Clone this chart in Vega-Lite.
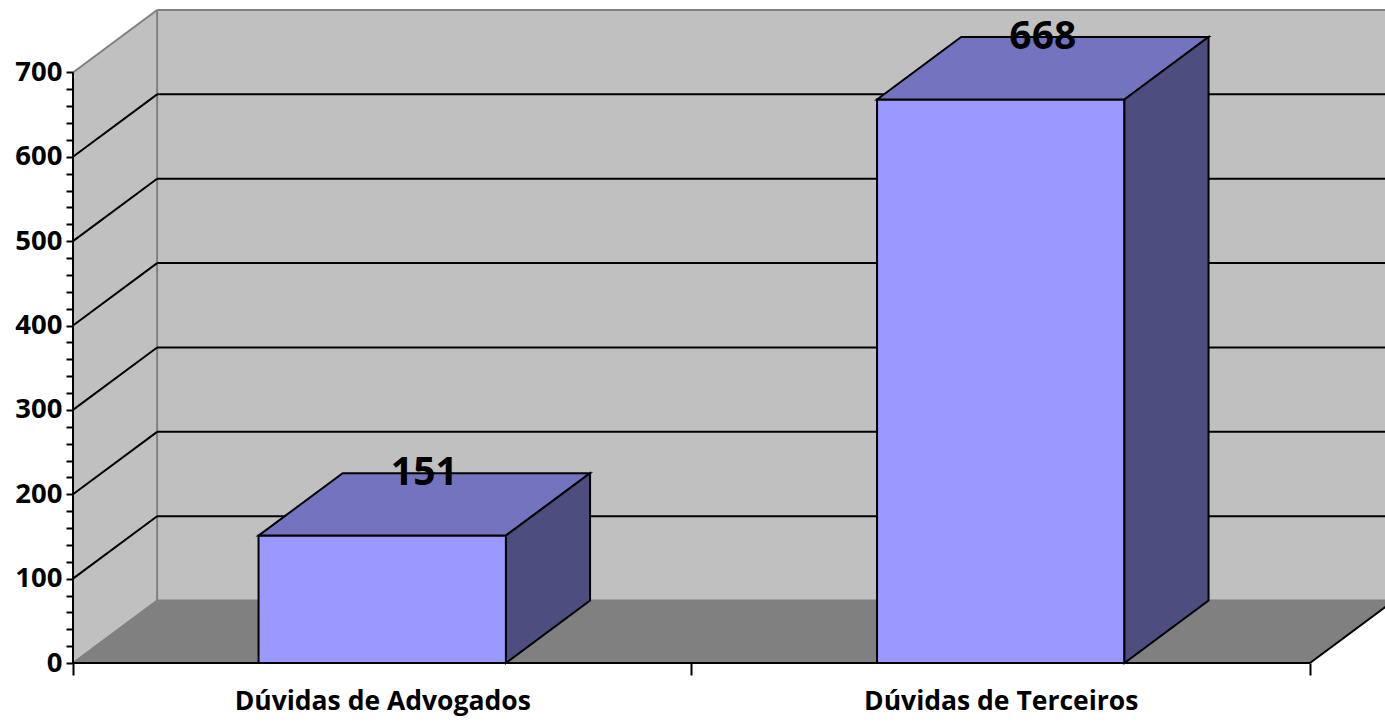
{
  "$schema": "https://vega.github.io/schema/vega-lite/v6.json",
  "width": 1312,
  "height": 653,
  "autosize": {"type": "none"},
  "padding": {"left": 73, "top": 10, "right": 0, "bottom": 62},
  "background": "white",
  "config": {
    "view": {"stroke": null},
    "axis": {
      "domain": false, "grid": false,
      "tickColor": "black", "tickWidth": 2,
      "labelFont": "Open Sans", "labelFontWeight": "bold", "labelColor": "black",
      "labelOverlap": false, "labelBound": false, "labelFlush": false, "labelLimit": 500
    }
  },
  "datasets": {
    "bars": [
      {"category": "Dúvidas de Advogados", "value": 151},
      {"category": "Dúvidas de Terceiros", "value": 668}
    ],
    "grid": [{"v": 100}, {"v": 200}, {"v": 300}, {"v": 400}, {"v": 500}, {"v": 600}]
  },
  "layer": [
    {
      "data": {"values": [{}]},
      "mark": {"type": "rect", "fill": "#c0c0c0"},
      "encoding": {
        "x": {"datum": 0.136, "type": "quantitative", "title": null, "scale": {"domain": [0, 2.1213], "nice": false, "zero": false}},
        "x2": {"datum": 2.1213},
        "y": {"datum": 74, "type": "quantitative", "title": null, "scale": {"domain": [0, 774], "nice": false, "zero": false}},
        "y2": {"datum": 774}
      }
    },
    {
      "data": {"values": [{}]},
      "transform": [
        {"calculate": "[0, 0.136]", "as": "px"},
        {"calculate": "[700, 774]", "as": "py"},
        {"calculate": "[0, 74]", "as": "py2"},
        {"flatten": ["px", "py", "py2"]}
      ],
      "mark": {"type": "area", "fill": "#c0c0c0", "orient": "vertical"},
      "encoding": {
        "x": {"field": "px", "type": "quantitative", "title": null},
        "y": {"field": "py", "type": "quantitative", "title": null},
        "y2": {"field": "py2"}
      }
    },
    {
      "data": {"values": [{}]},
      "transform": [
        {"calculate": "[0, 0.136, 2, 2.136]", "as": "px"},
        {"calculate": "[0, 74, 74, 74]", "as": "py"},
        {"calculate": "[0, 0, 0, 74]", "as": "py2"},
        {"flatten": ["px", "py", "py2"]}
      ],
      "mark": {"type": "area", "fill": "#808080", "orient": "vertical"},
      "encoding": {
        "x": {"field": "px", "type": "quantitative", "title": null},
        "y": {"field": "py", "type": "quantitative", "title": null},
        "y2": {"field": "py2"}
      }
    },
    {
      "data": {"values": [{}]},
      "mark": {"type": "rule", "color": "#808080", "strokeWidth": 2},
      "encoding": {
        "x": {"datum": 0, "type": "quantitative", "title": null},
        "x2": {"datum": 0.136},
        "y": {"datum": 700, "type": "quantitative", "title": null},
        "y2": {"datum": 774}
      }
    },
    {
      "data": {"values": [{}]},
      "mark": {"type": "rule", "color": "#808080", "strokeWidth": 2},
      "encoding": {
        "x": {"datum": 0.136, "type": "quantitative", "title": null},
        "x2": {"datum": 2.1213},
        "y": {"datum": 774, "type": "quantitative", "title": null}
      }
    },
    {
      "data": {"values": [{}]},
      "mark": {"type": "rule", "color": "#808080", "strokeWidth": 2},
      "encoding": {
        "x": {"datum": 0.136, "type": "quantitative", "title": null},
        "y": {"datum": 74, "type": "quantitative", "title": null},
        "y2": {"datum": 774}
      }
    },
    {
      "data": {"values": [{}]},
      "mark": {"type": "rule", "color": "#808080", "strokeWidth": 2},
      "encoding": {
        "x": {"datum": 0.136, "type": "quantitative", "title": null},
        "x2": {"datum": 2.1213},
        "y": {"datum": 74, "type": "quantitative", "title": null}
      }
    },
    {
      "data": {"values": [{}]},
      "mark": {"type": "rule", "color": "#808080", "strokeWidth": 2},
      "encoding": {
        "x": {"datum": 0, "type": "quantitative", "title": null},
        "x2": {"datum": 0.136},
        "y": {"datum": 0, "type": "quantitative", "title": null},
        "y2": {"datum": 74}
      }
    },
    {
      "data": {"name": "grid"},
      "transform": [{"calculate": "datum.v + 74", "as": "vb"}],
      "mark": {"type": "rule", "color": "black", "strokeWidth": 2},
      "encoding": {
        "x": {"datum": 0.136, "type": "quantitative", "title": null},
        "x2": {"datum": 2.1213},
        "y": {"field": "vb", "type": "quantitative", "title": null}
      }
    },
    {
      "data": {"name": "grid"},
      "transform": [{"calculate": "datum.v + 74", "as": "vb"}],
      "mark": {"type": "rule", "color": "black", "strokeWidth": 2},
      "encoding": {
        "x": {"datum": 0, "type": "quantitative", "title": null},
        "x2": {"datum": 0.136},
        "y": {"field": "v", "type": "quantitative", "title": null},
        "y2": {"field": "vb"}
      }
    },
    {
      "data": {"values": [{}]},
      "mark": {"type": "rule", "color": "black", "strokeWidth": 2},
      "encoding": {
        "x": {"datum": 0, "type": "quantitative", "title": null},
        "y": {"datum": 0, "type": "quantitative", "title": null},
        "y2": {"datum": 700}
      }
    },
    {
      "data": {"values": [{}]},
      "mark": {"type": "rule", "color": "black", "strokeWidth": 2},
      "encoding": {
        "x": {"datum": 0, "type": "quantitative", "title": null},
        "x2": {"datum": 2},
        "y": {"datum": 0, "type": "quantitative", "title": null}
      }
    },
    {
      "data": {"values": [{}]},
      "mark": {"type": "rule", "color": "black", "strokeWidth": 2},
      "encoding": {
        "x": {"datum": 2, "type": "quantitative", "title": null},
        "x2": {"datum": 2.136},
        "y": {"datum": 0, "type": "quantitative", "title": null},
        "y2": {"datum": 74}
      }
    },
    {
      "data": {"name": "bars"},
      "transform": [
        {"window": [{"op": "row_number", "as": "idx"}]},
        {"calculate": "datum.idx - 0.7", "as": "x0"},
        {"calculate": "datum.idx - 0.3", "as": "x1"}
      ],
      "mark": {"type": "rect", "fill": "#9999ff", "stroke": "black", "strokeWidth": 2},
      "encoding": {
        "x": {
          "field": "x0", "type": "quantitative", "title": null,
          "scale": {"domain": [0, 2.1213], "nice": false, "zero": false},
          "axis": {
            "values": [0, 0.5, 1, 1.5, 2],
            "tickCount": 100,
            "labelExpr": "datum.value == 0.5 ? 'Dúvidas de Advogados' : (datum.value == 1.5 ? 'Dúvidas de Terceiros' : '')",
            "tickOpacity": {"condition": {"test": "datum.value == 0.5 || datum.value == 1.5", "value": 0}, "value": 1},
            "domain": false, "grid": false, "tickColor": "black", "tickWidth": 2, "tickSize": 12,
            "labelFont": "Open Sans", "labelFontSize": 26.5, "labelFontWeight": "bold", "labelColor": "black",
            "labelPadding": 13, "labelOverlap": false, "labelBound": false, "labelFlush": false, "labelLimit": 500
          }
        },
        "x2": {"field": "x1"},
        "y": {
          "field": "value", "type": "quantitative", "title": null,
          "scale": {"domain": [0, 774], "nice": false, "zero": false},
          "axis": {
            "values": [0, 20, 40, 60, 80, 100, 120, 140, 160, 180, 200, 220, 240, 260, 280, 300, 320, 340, 360, 380, 400, 420, 440, 460, 480, 500, 520, 540, 560, 580, 600, 620, 640, 660, 680, 700],
            "tickCount": 100,
            "labelExpr": "datum.value % 100 == 0 ? datum.label : ''",
            "domain": false, "grid": false, "tickColor": "black", "tickWidth": 2, "tickSize": 7,
            "labelFont": "Open Sans", "labelFontSize": 27.5, "labelFontWeight": "bold", "labelColor": "black",
            "labelPadding": 4, "labelOverlap": false, "labelBound": false, "labelFlush": false, "labelLimit": 500
          }
        },
        "y2": {"datum": 0}
      }
    },
    {
      "data": {"name": "bars"},
      "transform": [
        {"window": [{"op": "row_number", "as": "idx"}]},
        {"calculate": "[datum.idx - 0.7, datum.idx - 0.7 + 0.136, datum.idx - 0.3, datum.idx - 0.3 + 0.136]", "as": "px"},
        {"calculate": "[datum.value, datum.value + 74, datum.value + 74, datum.value + 74]", "as": "py"},
        {"calculate": "[datum.value, datum.value, datum.value, datum.value + 74]", "as": "py2"},
        {"flatten": ["px", "py", "py2"]}
      ],
      "mark": {"type": "area", "fill": "#7373bf", "stroke": "black", "strokeWidth": 2, "orient": "vertical"},
      "encoding": {
        "x": {"field": "px", "type": "quantitative", "title": null},
        "y": {"field": "py", "type": "quantitative", "title": null},
        "y2": {"field": "py2"},
        "detail": {"field": "category"}
      }
    },
    {
      "data": {"name": "bars"},
      "transform": [
        {"window": [{"op": "row_number", "as": "idx"}]},
        {"calculate": "[datum.idx - 0.3, datum.idx - 0.3 + 0.136]", "as": "px"},
        {"calculate": "[datum.value, datum.value + 74]", "as": "py"},
        {"calculate": "[0, 74]", "as": "py2"},
        {"flatten": ["px", "py", "py2"]}
      ],
      "mark": {"type": "area", "fill": "#4d4d80", "stroke": "black", "strokeWidth": 2, "orient": "vertical"},
      "encoding": {
        "x": {"field": "px", "type": "quantitative", "title": null},
        "y": {"field": "py", "type": "quantitative", "title": null},
        "y2": {"field": "py2"},
        "detail": {"field": "category"}
      }
    },
    {
      "data": {"name": "bars"},
      "transform": [
        {"window": [{"op": "row_number", "as": "idx"}]},
        {"calculate": "datum.idx - 0.5 + 0.068", "as": "xc"},
        {"calculate": "datum.value + 74", "as": "yc"}
      ],
      "mark": {"type": "text", "font": "Open Sans", "fontSize": 39, "fontWeight": "bold", "color": "black", "align": "center", "baseline": "middle"},
      "encoding": {
        "x": {"field": "xc", "type": "quantitative", "title": null},
        "y": {"field": "yc", "type": "quantitative", "title": null},
        "text": {"field": "value", "type": "quantitative"}
      }
    }
  ]
}
